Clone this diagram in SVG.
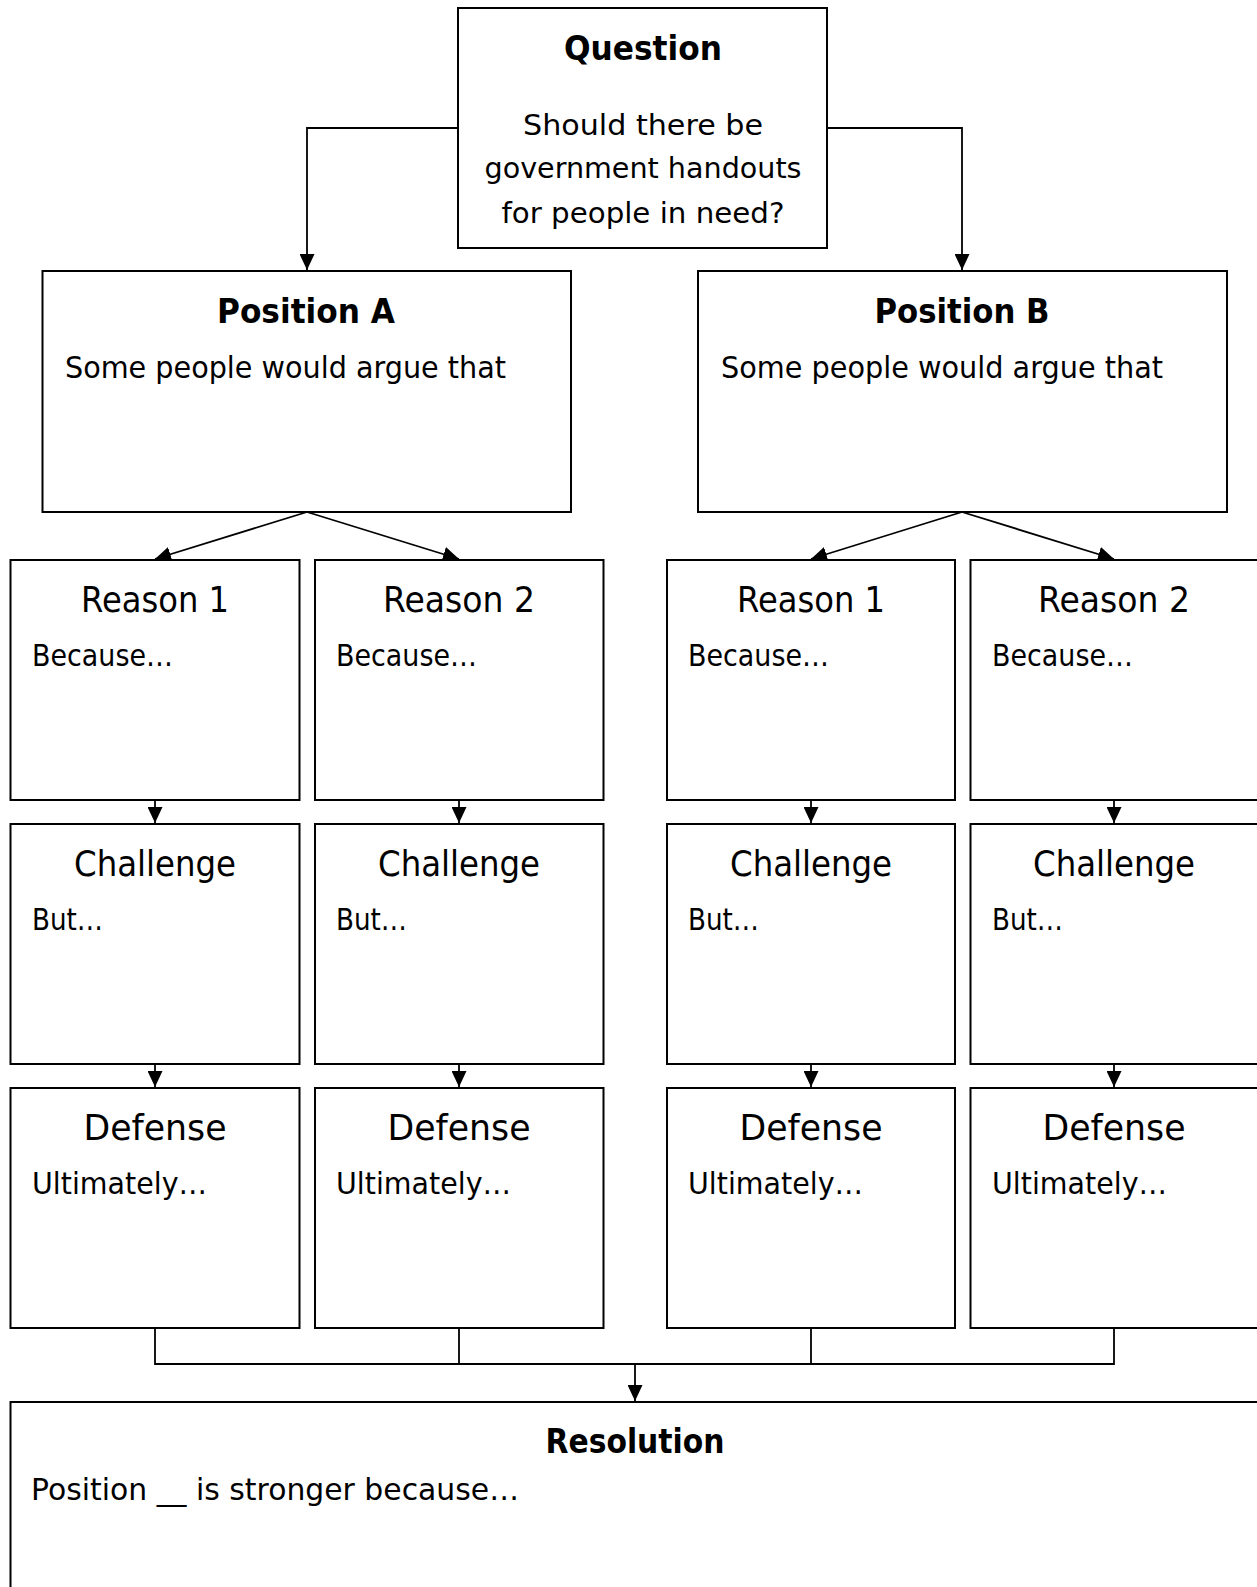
<svg xmlns="http://www.w3.org/2000/svg" width="1257" height="1587" viewBox="0 0 1257 1587">
<style>
.box{fill:#fff;stroke:#000;stroke-width:2}
.con{fill:none;stroke:#000;stroke-width:1.8}
text{font-family:"DejaVu Sans","Liberation Sans",sans-serif;fill:#000}
.tb{font-weight:bold;font-size:34px;text-anchor:middle}
.tr{font-size:36px;text-anchor:middle}
.q{font-size:28px;text-anchor:middle}
.b{font-size:30px}
</style>
<defs>
<marker id="ah" markerUnits="userSpaceOnUse" markerWidth="16" markerHeight="15" refX="16" refY="7.5" orient="auto">
<path d="M0,0 L16,7.5 L0,15 z" fill="#000"/>
</marker>
</defs>
<rect width="1257" height="1587" fill="#fff"/>
<g id="connectors">
<path class="con" d="M458,128 H307 V270" marker-end="url(#ah)"/>
<path class="con" d="M827,128 H962 V270" marker-end="url(#ah)"/>
<path class="con" d="M307,512 L155,559" marker-end="url(#ah)"/>
<path class="con" d="M307,512 L459,559" marker-end="url(#ah)"/>
<path class="con" d="M962,512 L811,559" marker-end="url(#ah)"/>
<path class="con" d="M962,512 L1114,559" marker-end="url(#ah)"/>
<path class="con" d="M155,800 V823" marker-end="url(#ah)"/>
<path class="con" d="M459,800 V823" marker-end="url(#ah)"/>
<path class="con" d="M811,800 V823" marker-end="url(#ah)"/>
<path class="con" d="M1114,800 V823" marker-end="url(#ah)"/>
<path class="con" d="M155,1064 V1087" marker-end="url(#ah)"/>
<path class="con" d="M459,1064 V1087" marker-end="url(#ah)"/>
<path class="con" d="M811,1064 V1087" marker-end="url(#ah)"/>
<path class="con" d="M1114,1064 V1087" marker-end="url(#ah)"/>
<path class="con" d="M155,1328 V1364 H1114 V1328"/>
<path class="con" d="M459,1328 V1364 M811,1328 V1364"/>
<path class="con" d="M459,1364 H811"/>
<path class="con" d="M635,1364 V1401" marker-end="url(#ah)"/>
</g>
<g id="question">
<rect class="box" x="458" y="8" width="369" height="240"/>
<text class="tb" x="643" y="60" textLength="158" lengthAdjust="spacingAndGlyphs">Question</text>
<text class="q" x="643" y="135" textLength="240" lengthAdjust="spacingAndGlyphs">Should there be</text>
<text class="q" x="643" y="178" textLength="317" lengthAdjust="spacingAndGlyphs">government handouts</text>
<text class="q" x="643" y="223" textLength="283" lengthAdjust="spacingAndGlyphs">for people in need?</text>
</g>
<g id="positionA">
<rect class="box" x="42.5" y="271" width="528.5" height="241"/>
<text class="tb" x="306" y="323" font-size="36" textLength="178" lengthAdjust="spacingAndGlyphs">Position A</text>
<text class="b" x="65" y="378" textLength="441" lengthAdjust="spacingAndGlyphs">Some people would argue that</text>
</g>
<g id="positionB">
<rect class="box" x="698" y="271" width="529" height="241"/>
<text class="tb" x="962" y="323" font-size="36" textLength="175" lengthAdjust="spacingAndGlyphs">Position B</text>
<text class="b" x="721" y="378" textLength="442" lengthAdjust="spacingAndGlyphs">Some people would argue that</text>
</g>
<g id="reasonA1">
<rect class="box" x="10.5" y="560" width="289" height="240"/>
<text class="tr" x="155" y="612" textLength="148" lengthAdjust="spacingAndGlyphs">Reason 1</text>
<text class="b" x="32" y="666" textLength="141" lengthAdjust="spacingAndGlyphs">Because…</text>
</g>
<g id="reasonA2">
<rect class="box" x="315" y="560" width="288.5" height="240"/>
<text class="tr" x="459" y="612" textLength="152" lengthAdjust="spacingAndGlyphs">Reason 2</text>
<text class="b" x="336" y="666" textLength="141" lengthAdjust="spacingAndGlyphs">Because…</text>
</g>
<g id="reasonB1">
<rect class="box" x="667" y="560" width="288" height="240"/>
<text class="tr" x="811" y="612" textLength="148" lengthAdjust="spacingAndGlyphs">Reason 1</text>
<text class="b" x="688" y="666" textLength="141" lengthAdjust="spacingAndGlyphs">Because…</text>
</g>
<g id="reasonB2">
<rect class="box" x="970.5" y="560" width="300" height="240"/>
<text class="tr" x="1114" y="612" textLength="152" lengthAdjust="spacingAndGlyphs">Reason 2</text>
<text class="b" x="992" y="666" textLength="141" lengthAdjust="spacingAndGlyphs">Because…</text>
</g>
<g id="challengeA1">
<rect class="box" x="10.5" y="824" width="289" height="240"/>
<text class="tr" x="155" y="876" textLength="162" lengthAdjust="spacingAndGlyphs">Challenge</text>
<text class="b" x="32" y="930" textLength="71" lengthAdjust="spacingAndGlyphs">But…</text>
</g>
<g id="challengeA2">
<rect class="box" x="315" y="824" width="288.5" height="240"/>
<text class="tr" x="459" y="876" textLength="162" lengthAdjust="spacingAndGlyphs">Challenge</text>
<text class="b" x="336" y="930" textLength="71" lengthAdjust="spacingAndGlyphs">But…</text>
</g>
<g id="challengeB1">
<rect class="box" x="667" y="824" width="288" height="240"/>
<text class="tr" x="811" y="876" textLength="162" lengthAdjust="spacingAndGlyphs">Challenge</text>
<text class="b" x="688" y="930" textLength="71" lengthAdjust="spacingAndGlyphs">But…</text>
</g>
<g id="challengeB2">
<rect class="box" x="970.5" y="824" width="300" height="240"/>
<text class="tr" x="1114" y="876" textLength="162" lengthAdjust="spacingAndGlyphs">Challenge</text>
<text class="b" x="992" y="930" textLength="71" lengthAdjust="spacingAndGlyphs">But…</text>
</g>
<g id="defenseA1">
<rect class="box" x="10.5" y="1088" width="289" height="240"/>
<text class="tr" x="155" y="1140" textLength="143" lengthAdjust="spacingAndGlyphs">Defense</text>
<text class="b" x="32" y="1194" textLength="175" lengthAdjust="spacingAndGlyphs">Ultimately…</text>
</g>
<g id="defenseA2">
<rect class="box" x="315" y="1088" width="288.5" height="240"/>
<text class="tr" x="459" y="1140" textLength="143" lengthAdjust="spacingAndGlyphs">Defense</text>
<text class="b" x="336" y="1194" textLength="175" lengthAdjust="spacingAndGlyphs">Ultimately…</text>
</g>
<g id="defenseB1">
<rect class="box" x="667" y="1088" width="288" height="240"/>
<text class="tr" x="811" y="1140" textLength="143" lengthAdjust="spacingAndGlyphs">Defense</text>
<text class="b" x="688" y="1194" textLength="175" lengthAdjust="spacingAndGlyphs">Ultimately…</text>
</g>
<g id="defenseB2">
<rect class="box" x="970.5" y="1088" width="300" height="240"/>
<text class="tr" x="1114" y="1140" textLength="143" lengthAdjust="spacingAndGlyphs">Defense</text>
<text class="b" x="992" y="1194" textLength="175" lengthAdjust="spacingAndGlyphs">Ultimately…</text>
</g>
<g id="resolution">
<rect class="box" x="10.5" y="1402" width="1270" height="200"/>
<text class="tb" x="635" y="1453" font-size="36" textLength="179" lengthAdjust="spacingAndGlyphs">Resolution</text>
<text class="b" x="31" y="1500" textLength="488" lengthAdjust="spacingAndGlyphs">Position __ is stronger because…</text>
</g>
</svg>
